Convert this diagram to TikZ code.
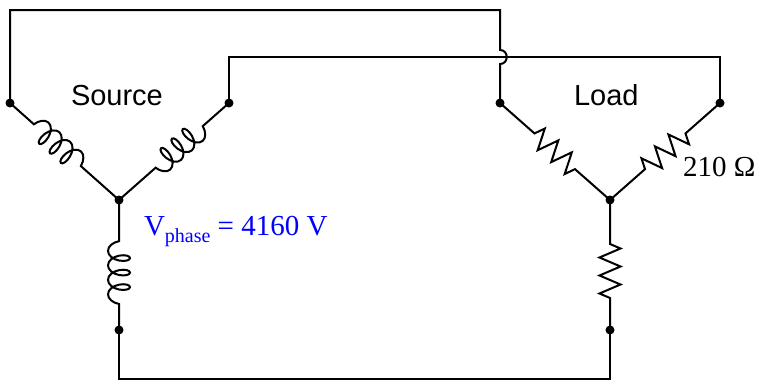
\documentclass[tikz,border=0pt]{standalone}
\usepackage{fontspec}
\setmainfont{Liberation Serif}
\newfontfamily\labelsans{Liberation Sans}
\usetikzlibrary{decorations.pathmorphing}

\begin{document}
\begin{tikzpicture}[x=1pt,y=-1pt,line width=2pt,
		every node/.style={inner sep=0pt},
		inductor/.style args={#1/#2}{decorate,decoration={coil,aspect=0.55,segment length=14.5pt,amplitude=11pt,pre length=#1pt,post length=#2pt}},
		resistor/.style args={#1/#2}{decorate,decoration={zigzag,segment length=18pt,amplitude=10.5pt,pre length=#1pt,post length=#2pt}},
		sanslabel/.style={font=\labelsans\fontsize{29}{32}\selectfont},
		seriflabel/.style={font=\fontsize{29}{32}\selectfont}]

		\useasboundingbox (0,0) rectangle (757,381);

		%source terminals
		\coordinate (sA) at (10,103);
		\coordinate (sB) at (229,103);
		\coordinate (sN) at (119,200);
		\coordinate (sC) at (119,330);

		%load terminals
		\coordinate (lA) at (500,103);
		\coordinate (lB) at (720,103);
		\coordinate (lN) at (610,200);
		\coordinate (lC) at (610,330);

		%hop over the crossing
		\coordinate (hopT) at (500,50);
		\coordinate (hopB) at (500,64);

		%source windings
		\draw[inductor=32/50] (sA) -- (sN);
		\draw[inductor=35/47] (sB) -- (sN);
		\draw[inductor=26/40] (sC) -- (sN);

		%load resistors
		\draw[resistor=46/46] (lA) -- (lN);
		\draw[resistor=46/46] (lB) -- (lN);
		\draw[resistor=44/32] (lN) -- (lC);

		%lines
		\draw (sA) -- ++(0,-93) -| (hopT) .. controls +(9,0) and +(9,0) .. (hopB) -- (lA);
		\draw (sB) -- ++(0,-46) -| (lB);
		\draw (sC) -- ++(0,49) -| (lC);

		%dots
		\foreach \p in {sA,sB,sN,sC,lA,lB,lN,lC}
			\fill (\p) circle[radius=4.5pt];

		%labels
		\node[sanslabel,anchor=base west] (srclabel) at (70,105) {Source};
		\node[sanslabel,anchor=base west] (loadlabel) at (573,105) {Load};
		\node[seriflabel,anchor=base west] (rlabel) at (682,176) {210 Ω};
		\node[seriflabel,anchor=base west,text={rgb,255:red,0;green,0;blue,255}] (vlabel) at (143,235)
			{V\raisebox{-7pt}{\fontsize{20}{22}\selectfont phase} = 4160 V};

		\end{tikzpicture}
\end{document}
